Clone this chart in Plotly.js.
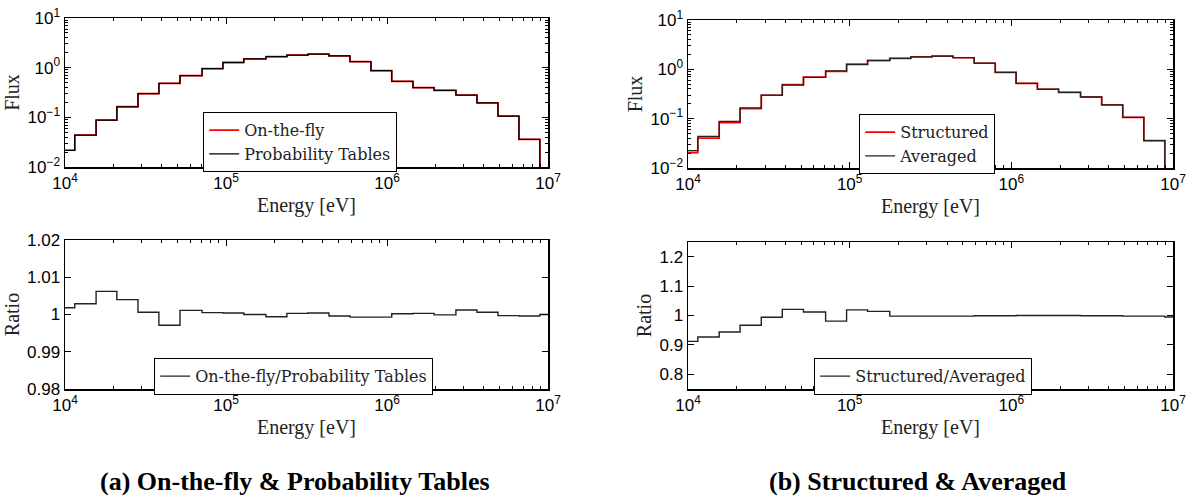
<!DOCTYPE html>
<html>
<head>
<meta charset="utf-8">
<script src="https://cdn.plot.ly/plotly-3.0.1.min.js"></script>
<style>
html,body{margin:0;padding:0;background:#fff;}
#chart{width:1189px;height:497px;}
</style>
</head>
<body>
<div id="chart"></div>
<script>
// ---- Data ----
// Energy group edges [eV] (24 groups)
const energyEdges = [1e4, 1.15e4, 1.56e4, 2.1e4, 2.84e4, 3.83e4, 5.18e4, 7.1e4, 9.57e4,
  1.29e5, 1.77e5, 2.39e5, 3.23e5, 4.36e5, 5.89e5, 7.95e5, 1.07e6, 1.45e6, 1.96e6,
  2.68e6, 3.62e6, 4.89e6, 6.6e6, 8.9e6, 1e7];

// (a) On-the-fly vs Probability Tables: flux per group (last group ~0)
const otfFlux = [0.02174, 0.0438, 0.0882, 0.1637, 0.2992, 0.4826, 0.6908, 0.9575, 1.2705,
  1.50, 1.669, 1.7905, 1.8707, 1.7293, 1.3191, 0.8694, 0.5301, 0.3951, 0.350, 0.2813,
  0.1961, 0.106, 0.036, 0.0001];
const ptFlux = [0.0217, 0.0437, 0.0877, 0.163, 0.299, 0.484, 0.690, 0.957, 1.27,
  1.50, 1.67, 1.79, 1.87, 1.73, 1.32, 0.87, 0.53, 0.395, 0.350, 0.281,
  0.196, 0.106, 0.036, 0.0001];
const otfPtRatio = [1.0018, 1.0029, 1.0062, 1.0040, 1.0006, 0.9971, 1.0011, 1.0005, 1.0004,
  1.0000, 0.9994, 1.0003, 1.0004, 0.9996, 0.9993, 0.9993, 1.0002, 1.0003, 0.9999,
  1.0012, 1.0006, 0.9997, 0.9996, 1.0000];

// (b) Structured vs Averaged
const structuredFlux = [0.0204, 0.0405, 0.0831, 0.1596, 0.2982, 0.4901, 0.6983, 0.9123, 1.2738,
  1.521, 1.6667, 1.7864, 1.8463, 1.7166, 1.3287, 0.8691, 0.520, 0.395, 0.340, 0.2747,
  0.1898, 0.1058, 0.0359, 0.0001];
const averagedFlux = [0.0224, 0.0437, 0.088, 0.165, 0.300, 0.480, 0.690, 0.930, 1.25,
  1.50, 1.67, 1.79, 1.85, 1.72, 1.33, 0.87, 0.52, 0.395, 0.340, 0.275,
  0.190, 0.106, 0.036, 0.0001];
const structAvgRatio = [0.912, 0.927, 0.944, 0.967, 0.994, 1.021, 1.012, 0.981, 1.019,
  1.014, 0.998, 0.998, 0.998, 0.998, 0.999, 0.999, 1.000, 1.000, 1.000, 0.999,
  0.999, 0.998, 0.998, 0.995];

// Tick labels
const energyTickVals = [1e4, 1e5, 1e6, 1e7];
const energyTickText = ['10<sup>4</sup>', '10<sup>5</sup>', '10<sup>6</sup>', '10<sup>7</sup>'];
const fluxTickVals = [0.01, 0.1, 1, 10];
const fluxTickText = ['10<sup>\u22122</sup>', '10<sup>\u22121</sup>', '10<sup>0</sup>', '10<sup>1</sup>'];
const ratioTickValsA = [0.98, 0.99, 1, 1.01, 1.02];
const ratioTickTextA = ['0.98', '0.99', '1', '1.01', '1.02'];
const ratioTickValsB = [0.8, 0.9, 1, 1.1, 1.2];
const ratioTickTextB = ['0.8', '0.9', '1', '1.1', '1.2'];

const captionA = '(a) On-the-fly & Probability Tables';
const captionB = '(b) Structured & Averaged';

// ---- helpers ----
const W = 1189, H = 497;
function stepY(v){ return v.concat([v[v.length-1]]); }
function minorLog(d0, d1){
  const out = [];
  for(let d = d0; d < d1; d++) for(let m = 2; m <= 9; m++) out.push(m*Math.pow(10, d));
  return out;
}
const xDomA = [65/W, 548/W], xDomB = [688/W, 1173/W];
function yDom(top, bottom){ return [1 - bottom/H, 1 - top/H]; }

const tickFont = {family: 'Liberation Sans, Arial, sans-serif', size: 17, color: '#000'};
const serif = 'Liberation Serif, Times New Roman, serif';
const legendSerif = 'DejaVu Serif, Liberation Serif, serif';
const titleFont = {family: serif, size: 20, color: '#222'};

function xAxis(domain, anchor){
  return {
    domain: domain, anchor: anchor, type: 'log',
    range: [4, 7], autorange: false,
    tickmode: 'array', tickvals: energyTickVals, ticktext: energyTickText,
    ticks: 'inside', ticklen: 6, tickwidth: 1, tickcolor: '#000',
    minor: {tickmode: 'array', tickvals: minorLog(4, 7), ticks: 'inside', ticklen: 3, tickwidth: 1, tickcolor: '#000', showgrid: false},
    showline: true, linecolor: '#000', linewidth: 1.5, mirror: 'allticks',
    showgrid: false, zeroline: false,
    tickfont: tickFont,
    title: {text: 'Energy [eV]', font: titleFont, standoff: 6}
  };
}
function yAxisLog(domain, anchor){
  return {
    domain: domain, anchor: anchor, type: 'log',
    range: [-2, 1], autorange: false,
    tickmode: 'array', tickvals: fluxTickVals, ticktext: fluxTickText,
    ticks: 'inside', ticklen: 6, tickwidth: 1, tickcolor: '#000',
    minor: {tickmode: 'array', tickvals: minorLog(-2, 1), ticks: 'inside', ticklen: 3, tickwidth: 1, tickcolor: '#000', showgrid: false},
    showline: true, linecolor: '#000', linewidth: 1.5, mirror: 'allticks',
    showgrid: false, zeroline: false,
    tickfont: tickFont,
    title: {text: 'Flux', font: titleFont, standoff: 2}
  };
}
function yAxisLin(domain, anchor, range, vals, text){
  return {
    domain: domain, anchor: anchor, range: range, autorange: false,
    tickmode: 'array', tickvals: vals, ticktext: text,
    ticks: 'inside', ticklen: 6, tickwidth: 1, tickcolor: '#000',
    showline: true, linecolor: '#000', linewidth: 1.5, mirror: 'allticks',
    showgrid: false, zeroline: false,
    tickfont: tickFont,
    title: {text: 'Ratio', font: titleFont, standoff: 2}
  };
}

const traces = [
  {x: energyEdges, y: stepY(otfFlux), xaxis: 'x', yaxis: 'y', mode: 'lines', line: {shape: 'hv', color: '#ff0000', width: 1.7},
   name: 'On-the-fly', legend: 'legend'},
  {x: energyEdges, y: stepY(ptFlux), xaxis: 'x', yaxis: 'y', mode: 'lines', line: {shape: 'hv', color: '#000000', width: 1.3},
   name: 'Probability Tables', legend: 'legend'},
  {x: energyEdges, y: stepY(otfPtRatio), xaxis: 'x2', yaxis: 'y2', mode: 'lines', line: {shape: 'hv', color: '#222', width: 1.4},
   name: 'On-the-fly/Probability Tables', legend: 'legend2'},
  {x: energyEdges, y: stepY(structuredFlux), xaxis: 'x3', yaxis: 'y3', mode: 'lines', line: {shape: 'hv', color: '#ff0000', width: 1.7},
   name: 'Structured', legend: 'legend3'},
  {x: energyEdges, y: stepY(averagedFlux), xaxis: 'x3', yaxis: 'y3', mode: 'lines', line: {shape: 'hv', color: '#222', width: 1.3},
   name: 'Averaged', legend: 'legend3'},
  {x: energyEdges, y: stepY(structAvgRatio), xaxis: 'x4', yaxis: 'y4', mode: 'lines', line: {shape: 'hv', color: '#222', width: 1.4},
   name: 'Structured/Averaged', legend: 'legend4'}
];

function legendAt(px, py, fs){
  return {x: px/W, y: 1 - py/H, xanchor: 'left', yanchor: 'top',
    bgcolor: '#fff', bordercolor: '#000', borderwidth: 1.2,
    font: {family: legendSerif, size: fs, color: '#222'}, tracegroupgap: 0,
    itemwidth: 30};
}

const layout = {
  width: W, height: H,
  margin: {l: 0, r: 0, t: 0, b: 0},
  paper_bgcolor: '#fff', plot_bgcolor: '#fff',
  showlegend: true,
  xaxis: xAxis(xDomA, 'y'),
  yaxis: yAxisLog(yDom(18, 167), 'x'),
  xaxis2: xAxis(xDomA, 'y2'),
  yaxis2: yAxisLin(yDom(240, 389), 'x2', [0.98, 1.02], ratioTickValsA, ratioTickTextA),
  xaxis3: xAxis(xDomB, 'y3'),
  yaxis3: yAxisLog(yDom(20, 168), 'x3'),
  xaxis4: xAxis(xDomB, 'y4'),
  yaxis4: yAxisLin(yDom(242, 389), 'x4', [0.75, 1.25], ratioTickValsB, ratioTickTextB),
  legend: legendAt(203, 112, 16),
  legend2: legendAt(154, 358, 16),
  legend3: legendAt(859, 114, 16),
  legend4: legendAt(814, 358, 16),
  annotations: [
    {text: '<b>' + captionA + '</b>', xref: 'paper', yref: 'paper', x: 295/W, y: 1 - 481/H,
     xanchor: 'center', yanchor: 'middle', showarrow: false, font: {family: serif, size: 26, color: '#000'}},
    {text: '<b>' + captionB + '</b>', xref: 'paper', yref: 'paper', x: 918/W, y: 1 - 481/H,
     xanchor: 'center', yanchor: 'middle', showarrow: false, font: {family: serif, size: 26, color: '#000'}}
  ]
};

Plotly.newPlot('chart', traces, layout, {staticPlot: true, displayModeBar: false});
</script>
</body>
</html>
